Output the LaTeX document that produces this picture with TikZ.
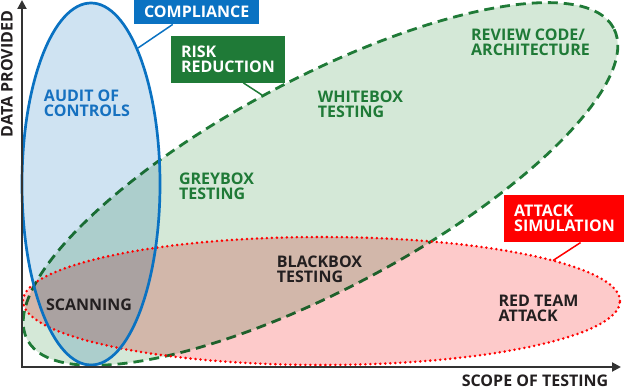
\documentclass[tikz,border=0pt]{standalone}
\usepackage{fontspec}
\setmainfont{Open Sans}
\usetikzlibrary{arrows.meta}

\definecolor{compblue}{HTML}{0A72C2}
\definecolor{auditblue}{HTML}{CFE3F2}
\definecolor{textblue}{HTML}{1671C0}
\definecolor{riskgreen}{HTML}{1F7A37}
\definecolor{riskfill}{HTML}{D4E8D7}
\definecolor{attackred}{HTML}{FF0000}
\definecolor{attackfill}{HTML}{FDCACA}
\definecolor{axisgrey}{HTML}{333333}
\definecolor{inkdark}{HTML}{231F20}

\newcommand{\zonefont}{\fontsize{16}{15}\selectfont\bfseries}

\tikzstyle{zone} = [align=left,font=\zonefont,inner sep=0pt]
\tikzstyle{tag} = [align=left,font=\zonefont,text=white,inner xsep=10pt,inner ysep=0pt]
\tikzstyle{axis} = [draw=axisgrey,line width=2pt,{Triangle[length=9pt,width=9pt]}-{Triangle[length=9pt,width=9pt]}]

\begin{document}
\begin{tikzpicture}[x=1pt,y=1pt]
	\useasboundingbox (0,0) rectangle (624,389);
	\coordinate (green c) at (320.5,205);
	\coordinate (red c) at (321.5,88);
	\coordinate (blue c) at (91,205);
	% risk reduction area
	\fill [riskfill,rotate around={28:(green c)}] (green c) ellipse [x radius=332,y radius=105];
	\draw [riskgreen,line width=2.8pt,dash pattern=on 10pt off 6pt,rotate around={28:(green c)}] (green c) ellipse [x radius=332,y radius=105];
	% attack simulation and compliance areas
	\begin{scope}[blend mode=multiply]
		\fill [attackfill] (red c) ellipse [x radius=298.5,y radius=64];
		\fill [auditblue] (blue c) ellipse [x radius=69,y radius=181];
	\end{scope}
	\draw [attackred,line width=2.8pt,line cap=round,dash pattern=on 0pt off 5pt] (red c) ellipse [x radius=298.5,y radius=64];
	\draw [compblue,line width=2.7pt] (blue c) ellipse [x radius=69,y radius=181];
	% axes
	\coordinate (origin) at (22,22);
	\coordinate (ytop) at (22,389);
	\coordinate (xend) at (621,22);
	\draw [axis] (ytop) -- (origin) -- (xend);
	\node (ylabel) [zone,rotate=90,text=inkdark] at (7,315) {DATA PROVIDED};
	\node (xlabel) [zone,text=inkdark] at (535,8.5) {SCOPE OF TESTING};
	% labels
	\node (audit) [zone,text=textblue] at (87,286) {AUDIT OF\\CONTROLS};
	\node (greybox) [zone,text=riskgreen] at (216.5,203) {GREYBOX\\TESTING};
	\node (whitebox) [zone,text=riskgreen] at (360.5,285) {WHITEBOX\\TESTING};
	\node (review) [zone,text=riskgreen] at (530.5,346.5) {REVIEW CODE/\\ARCHITECTURE};
	\node (blackbox) [zone,text=inkdark] at (319.5,119.3) {BLACKBOX\\TESTING};
	\node (scanning) [zone,text=inkdark] at (89,84.5) {SCANNING};
	\node (redteam) [zone,text=inkdark] at (538.5,81) {RED TEAM\\ATTACK};
	% tags
	\node (compliance) [tag,fill=compblue,minimum width=123,minimum height=24] at (196.7,376.8) {COMPLIANCE};
	\node (risk) [tag,fill=riskgreen,minimum width=110.6,minimum height=46.7] at (228,329.7) {RISK\\REDUCTION};
	\node (attack) [tag,fill=attackred,minimum width=115.6,minimum height=47.3] at (564.5,170.3) {ATTACK\\SIMULATION};
	\coordinate (compliance end) at (138,341);
	\coordinate (risk end) at (262,294);
	\coordinate (attack end) at (553,128.5);
	\draw [compblue,line width=1.5pt] (compliance.207) -- (compliance end);
	\draw [riskgreen,line width=1.5pt] (risk.303) -- (risk end);
	\draw [attackred,line width=1.5pt] (attack.304.5) -- (attack end);
\end{tikzpicture}
\end{document}
